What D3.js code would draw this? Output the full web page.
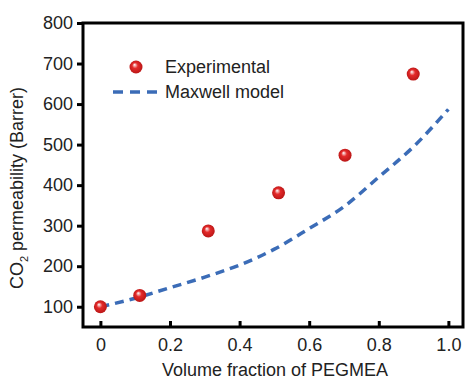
<!DOCTYPE html>
<html>
<head>
<meta charset="utf-8">
<script src="https://cdn.jsdelivr.net/npm/d3@7"></script>
<style>
  body { margin: 0; background: #fff; }
  svg { display: block; font-family: "Liberation Sans", Arial, sans-serif; }
</style>
</head>
<body>
<svg id="chart" width="466" height="380"></svg>
<script>
// experimental points
const fraction = [0, 0.113, 0.31, 0.512, 0.703, 0.899];
const permeability = [100, 128, 287, 381, 474, 674];

// Maxwell model curve
const modelFraction = [0, 0.1, 0.2, 0.3, 0.4, 0.5, 0.6, 0.7, 0.8, 0.9, 1.0];
const modelPerm = [100, 121, 147, 173, 203, 242, 293, 347, 420, 495, 587];

const xTicks = [0, 0.2, 0.4, 0.6, 0.8, 1.0];
const yTicks = [100, 200, 300, 400, 500, 600, 700, 800];

const svg = d3.select('#chart');
const plotL = 83, plotR = 463, plotT = 23, plotB = 327;

const x = d3.scaleLinear().domain([-0.05, 1.042]).range([plotL, plotR]);
const y = d3.scaleLinear().domain([50, 800]).range([plotB, plotT]);

const defs = svg.append('defs');
const grad = defs.append('radialGradient')
  .attr('id', 'ball')
  .attr('cx', '50%').attr('cy', '50%').attr('r', '55%')
  .attr('fx', '38%').attr('fy', '32%');
grad.append('stop').attr('offset', '0%').attr('stop-color', '#ffffff');
grad.append('stop').attr('offset', '18%').attr('stop-color', '#f3a0a0');
grad.append('stop').attr('offset', '40%').attr('stop-color', '#e42a2a');
grad.append('stop').attr('offset', '100%').attr('stop-color', '#b51414');

// axes
const yAxis = d3.axisLeft(y).tickValues(yTicks).tickSize(6).tickPadding(4).tickSizeOuter(0);
const gy = svg.append('g').attr('transform', `translate(${plotL},0)`).call(yAxis);

const xAxis = d3.axisBottom(x).tickValues(xTicks).tickSize(-6).tickPadding(11).tickSizeOuter(0)
  .tickFormat(d => d === 0 ? '0' : d.toFixed(1));
const gx = svg.append('g').attr('transform', `translate(0,${plotB})`).call(xAxis);

[gx, gy].forEach(g => {
  g.select('.domain').remove();
  g.selectAll('.tick line').attr('stroke', '#000').attr('stroke-width', 3);
  g.selectAll('.tick text').attr('fill', '#222').style('font-size', '18px')
    .style('font-family', '"Liberation Sans", Arial, sans-serif');
});

// frame
svg.append('rect')
  .attr('x', plotL).attr('y', plotT)
  .attr('width', plotR - plotL).attr('height', plotB - plotT)
  .attr('fill', 'none').attr('stroke', '#000').attr('stroke-width', 3);

// model curve
const line = d3.line()
  .x((d, i) => x(modelFraction[i]))
  .y(d => y(d))
  .curve(d3.curveMonotoneX);

svg.append('path')
  .datum(modelPerm)
  .attr('d', line)
  .attr('fill', 'none')
  .attr('stroke', '#3b6cb7')
  .attr('stroke-width', 3.5)
  .attr('stroke-dasharray', '9,6');

// experimental points
svg.selectAll('circle.pt')
  .data(permeability)
  .enter()
  .append('circle')
  .attr('class', 'pt')
  .attr('cx', (d, i) => x(fraction[i]))
  .attr('cy', d => y(d))
  .attr('r', 6.5)
  .attr('fill', 'url(#ball)');

// legend
svg.append('circle').attr('cx', 136).attr('cy', 67).attr('r', 6.5).attr('fill', 'url(#ball)');
svg.append('text').attr('x', 165).attr('y', 67).attr('dy', '0.35em')
  .style('font-size', '18px').attr('fill', '#222').text('Experimental');
svg.append('line').attr('x1', 113).attr('x2', 158).attr('y1', 92).attr('y2', 92)
  .attr('stroke', '#3b6cb7').attr('stroke-width', 3.5).attr('stroke-dasharray', '10,7');
svg.append('text').attr('x', 165).attr('y', 92).attr('dy', '0.35em')
  .style('font-size', '18px').attr('fill', '#222').text('Maxwell model');

// axis titles
svg.append('text')
  .attr('x', (plotL + plotR) / 2 + 2).attr('y', 376)
  .attr('text-anchor', 'middle')
  .style('font-size', '18px').attr('fill', '#222')
  .text('Volume fraction of PEGMEA');

const yl = svg.append('text')
  .attr('transform', 'translate(23,188) rotate(-90)')
  .attr('text-anchor', 'middle')
  .style('font-size', '18px').attr('fill', '#222');
yl.append('tspan').text('CO');
yl.append('tspan').attr('dy', 5).style('font-size', '11px').text('2');
yl.append('tspan').attr('dy', -5).text(' permeability (Barrer)');
</script>
</body>
</html>
